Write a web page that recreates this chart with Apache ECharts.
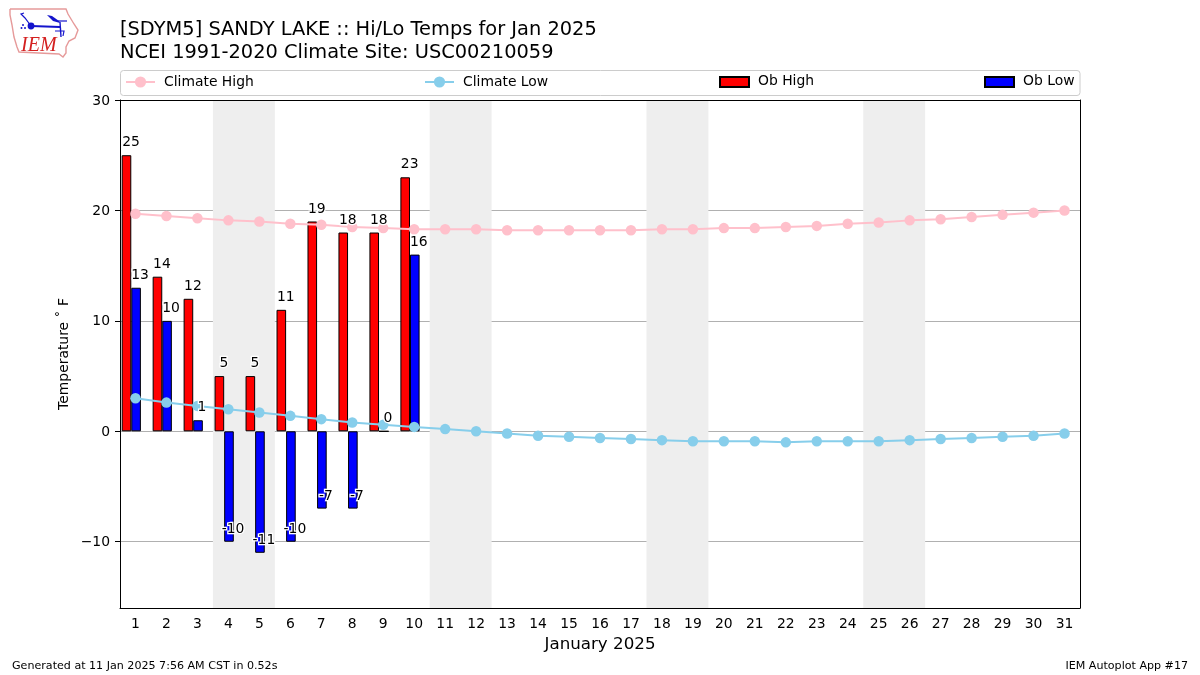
<!DOCTYPE html>
<html><head><meta charset="utf-8">
<script src="https://cdn.jsdelivr.net/npm/echarts@6/dist/echarts.min.js"></script>
<style>html,body{margin:0;padding:0;background:#fff}#c{width:1200px;height:675px}</style>
</head><body><div id="c"></div>
<script>
const days = ['1','2','3','4','5','6','7','8','9','10','11','12','13','14','15','16','17','18','19','20','21','22','23','24','25','26','27','28','29','30','31'];
const obHigh = [25,14,12,5,5,11,19,18,18,23];
const obLow = [13,10,1,-10,-11,-10,-7,-7,0,16];
const climateHigh = [19.7,19.5,19.3,19.1,19.0,18.8,18.7,18.5,18.4,18.3,18.3,18.3,18.2,18.2,18.2,18.2,18.2,18.3,18.3,18.4,18.4,18.5,18.6,18.8,18.9,19.1,19.2,19.4,19.6,19.8,20.0];
const climateLow = [3.0,2.6,2.3,2.0,1.7,1.4,1.1,0.8,0.6,0.4,0.2,0,-0.2,-0.4,-0.5,-0.6,-0.7,-0.8,-0.9,-0.9,-0.9,-1.0,-0.9,-0.9,-0.9,-0.8,-0.7,-0.6,-0.5,-0.4,-0.2];
const weekendSpans = [[3.5,5.5],[10.5,12.5],[17.5,19.5],[24.5,26.5]];
const yTicks = [-10,0,10,20,30];
const FONT = '"DejaVu Sans"';

function labelPoints(vals){ return vals.map((v,i)=>[i+1,v]); }
function labelSeries(name, vals, dx){
  return {type:'scatter', name, xAxisIndex:1, data:labelPoints(vals), z:5, silent:true, symbol:'circle', symbolSize:1,
    itemStyle:{color:'rgba(0,0,0,0)', opacity:1},
    label:{show:true, position:'top', distance:5, offset:[dx,0], color:'#000', fontFamily:FONT, fontSize:13.9,
      textBorderColor:'#fff', textBorderWidth:2.5, formatter:p=>String(p.value[1])}};
}
const chart = echarts.init(document.getElementById('c'), null, {renderer:'canvas'});
const legendBase = {orient:'horizontal', padding:0, itemGap:0, itemWidth:29, selectedMode:false};
const legendText = pad => ({fontFamily:FONT, fontSize:13.9, color:'#000', padding:pad});
const spine = {onZero:false, lineStyle:{color:'#000', width:1}};
const obLegendText = {fontFamily:FONT, fontSize:13.9, color:'#000', padding:[0,0,0,4],
  rich:{t:{fontFamily:FONT, fontSize:13.9, color:'#000', padding:[0,0,2,0]}}};
chart.setOption({
  animation:false,
  backgroundColor:'#fff',
  title:[
    {text:'[SDYM5] SANDY LAKE :: Hi/Lo Temps for Jan 2025\nNCEI 1991-2020 Climate Site: USC00210059', left:120, top:19, padding:0,
     textStyle:{fontFamily:FONT, fontSize:19.4, fontWeight:'normal', color:'#000', lineHeight:22.5}},
    {text:'Generated at 11 Jan 2025 7:56 AM CST in 0.52s', left:12, top:661, padding:0,
     textStyle:{fontFamily:FONT, fontSize:11.1, fontWeight:'normal', color:'#000'}},
    {text:'IEM Autoplot App #17', right:12, top:661, padding:0,
     textStyle:{fontFamily:FONT, fontSize:11.1, fontWeight:'normal', color:'#000'}}
  ],
  legend:[
    Object.assign({}, legendBase, {data:['Climate High'], left:125, top:75, itemHeight:14, textStyle:legendText([0,0,0,4])}),
    Object.assign({}, legendBase, {data:['Climate Low'], left:424, top:75, itemHeight:14, textStyle:legendText([0,0,0,4])}),
    Object.assign({}, legendBase, {data:[{name:'Ob High', icon:'rect'}], left:719, top:74, itemHeight:10, formatter:n=>'{t|'+n+'}', textStyle:obLegendText}),
    Object.assign({}, legendBase, {data:[{name:'Ob Low', icon:'rect'}], left:984, top:74, itemHeight:10, formatter:n=>'{t|'+n+'}', textStyle:obLegendText})
  ],
  grid:{left:120, right:120, top:100, bottom:67, show:false},
  xAxis:[
    {type:'category', data:days, boundaryGap:true, name:'January 2025', nameLocation:'middle', nameGap:28, z:4,
     nameTextStyle:{fontFamily:FONT, fontSize:16.7, color:'#000'},
     axisLine:spine,
     axisTick:{alignWithLabel:true, length:5, lineStyle:{color:'#000'}},
     axisLabel:{interval:0, fontFamily:FONT, fontSize:13.9, color:'#000', margin:9},
     splitLine:{show:false}},
    {type:'value', min:0.5, max:31.5, position:'top', z:4,
     axisLine:Object.assign({show:true}, spine), axisTick:{show:false}, axisLabel:{show:false}, splitLine:{show:false}}
  ],
  yAxis:[
    {type:'value', min:-16, max:30, interval:2, name:'Temperature ˚ F', nameLocation:'middle', nameGap:49, nameMoveOverlap:false,
     nameTextStyle:{fontFamily:FONT, fontSize:13.9, color:'#000'},
     axisLine:Object.assign({show:true}, spine),
     axisTick:{show:true, length:5, customValues:yTicks, lineStyle:{color:'#000'}},
     axisLabel:{fontFamily:FONT, fontSize:13.9, color:'#000', margin:10, customValues:yTicks,
       rich:{t:{fontFamily:FONT, fontSize:13.9, color:'#000', padding:[2,0,0,0]}},
       formatter:v=>'{t|'+(v<0?'\u2212'+Math.abs(v):String(v))+'}'},
     splitLine:{show:true, lineStyle:{color:'#b0b0b0', width:1}}},
    {type:'value', min:-16, max:30, position:'right', z:4,
     axisLine:Object.assign({show:true}, spine), axisTick:{show:false}, axisLabel:{show:false}, splitLine:{show:false}}
  ],
  series:[
    {type:'line', name:'weekend', xAxisIndex:1, data:[], z:-1, silent:true,
     markArea:{silent:true, itemStyle:{color:'#eeeeee'}, data:weekendSpans.map(s=>[{xAxis:s[0]},{xAxis:s[1]}])}},
    {type:'bar', name:'Ob High', data:obHigh, barWidth:9.6, barGap:0, z:2,
     itemStyle:{color:'#ff0000', borderColor:'#000', borderWidth:1, borderJoin:'miter'}},
    {type:'bar', name:'Ob Low', data:obLow, barWidth:9.6, barGap:0, z:2,
     itemStyle:{color:'#0000ff', borderColor:'#000', borderWidth:1, borderJoin:'miter'}},
    {type:'bar', name:'spacer', data:[], barWidth:8.4, barGap:0, silent:true},
    {type:'line', name:'Climate High', data:climateHigh, z:3, symbol:'circle', symbolSize:10.5, showSymbol:true,
     lineStyle:{color:'#ffc0cb', width:2}, itemStyle:{color:'#ffc0cb'}},
    {type:'line', name:'Climate Low', data:climateLow, z:3, symbol:'circle', symbolSize:10.5, showSymbol:true,
     lineStyle:{color:'#87ceeb', width:2}, itemStyle:{color:'#87ceeb'}},
    labelSeries('Ob High labels', obHigh, -4.5),
    labelSeries('Ob Low labels', obLow, 4.6)
  ],
  graphic:[
    {type:'rect', shape:{x:120.5,y:70.5,width:959.5,height:25,r:3}, style:{fill:'none',stroke:'#cccccc',lineWidth:1}, silent:true},
    {type:'polyline', silent:true, z:5, shape:{points:[[10,9],[66,9],[68,14],[74,24],[78,30],[75,38],[69,41],[66,47],[66,53],[63,57],[59,54],[19,52],[17,47],[14,37],[12,25],[10,15],[10,9]]}, style:{fill:'none',stroke:'#e69a9a',lineWidth:1.4}},
    {type:'polyline', silent:true, z:5, shape:{points:[[31,26],[60,27]]}, style:{stroke:'#1414cc',lineWidth:1.8,fill:'none'}},
    {type:'polyline', silent:true, z:5, shape:{points:[[24,13],[21,14],[25,18],[31,26]]}, style:{stroke:'#1414cc',lineWidth:1.2,fill:'none'}},
    {type:'circle', silent:true, z:5, shape:{cx:31,cy:26,r:3.4}, style:{fill:'#1414cc'}},
    {type:'polygon', silent:true, z:5, shape:{points:[[47,15],[52,16],[59,21],[60,23],[53,21]]}, style:{fill:'#1414cc'}},
    {type:'polyline', silent:true, z:5, shape:{points:[[58,21],[67,21]]}, style:{stroke:'#1414cc',lineWidth:1.2,fill:'none'}},
    {type:'polyline', silent:true, z:5, shape:{points:[[60,22],[61,37]]}, style:{stroke:'#1414cc',lineWidth:1.4,fill:'none'}},
    {type:'polyline', silent:true, z:5, shape:{points:[[55,31],[64,31],[63,36]]}, style:{stroke:'#1414cc',lineWidth:1.2,fill:'none'}},
    {type:'circle', silent:true, z:5, shape:{cx:23,cy:25,r:1}, style:{fill:'#1414cc'}},
    {type:'circle', silent:true, z:5, shape:{cx:21.5,cy:28,r:1}, style:{fill:'#1414cc'}},
    {type:'circle', silent:true, z:5, shape:{cx:25,cy:28,r:1}, style:{fill:'#1414cc'}},
    {type:'text', silent:true, z:5, style:{x:21,y:36,text:'IEM',fill:'#d42020',font:'italic 20px "Liberation Serif"'}}
  ]
});
</script></body></html>
